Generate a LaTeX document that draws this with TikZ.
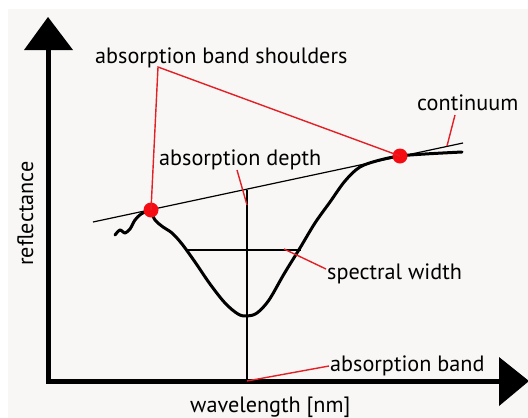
\documentclass[tikz,border=0pt]{standalone}
\usepackage{fontspec}
\setmainfont{PT Sans}
\usetikzlibrary{positioning}
\definecolor{leadred}{RGB}{226,32,38}
\definecolor{dotred}{RGB}{245,12,18}
\definecolor{paper}{RGB}{248,247,246}

\begin{document}
\begin{tikzpicture}[x=1pt, y=-1pt,
    lbl/.style={font=\fontsize{22.2}{24}\selectfont, inner sep=0pt, anchor=base west},
    lead/.style={draw=leadred, line width=1.4pt},
    dot/.style={circle, fill=dotred, minimum size=15pt, inner sep=0pt},
    axis/.style={line width=5pt},
    curve/.style={line width=3pt, line join=round, line cap=round}
  ]
  \useasboundingbox (0,0) rectangle (528,418);
  \fill[paper] (8,9) rectangle (528,418);

  % axes
  \draw[axis] (48,383) -- (48,48);
  \draw[axis] (46,381) -- (501,381);
  \fill (24,50) -- (48,17) -- (73,50) -- cycle;
  \fill (499,357) -- (529,381) -- (499,406) -- cycle;

  % labels
  \node[lbl] (shoulders) at (95,63) {absorption band shoulders};
  \node[lbl] (continuum) at (417,110) {continuum};
  \node[lbl] (depth) at (159,165) {absorption depth};
  \node[lbl] (width) at (327,279) {spectral width};
  \node[lbl] (band) at (330,371) {absorption band};
  \node[lbl] (xlabel) at (190,412) {wavelength [nm]};
  \node[lbl, rotate=90] (ylabel) at (33,266) {reflectance};

  % continuum, depth and width lines
  \coordinate (cleft) at (93,222);
  \coordinate (cright) at (463,143);
  \draw[line width=1.2pt] (cleft) -- (cright);
  \coordinate (dtop) at (247,190);
  \coordinate (dbot) at (247,381);
  \draw[line width=1.2pt] (dtop) -- (dbot);
  \coordinate (wleft) at (188,250);
  \coordinate (wright) at (301,250);
  \draw[line width=1.2pt] (wleft) -- (wright);

  % spectrum
  \draw[curve] plot[smooth, tension=0.5] coordinates {(115,235) (120,230) (125,233) (130,229) (135,220) (141,214) (148,211)};
  \draw[curve] plot[smooth, tension=0.55] coordinates {(152,213) (155,220) (163,227) (172,233) (182,244) (195,262) (210,284) (225,303) (238,314) (247,316) (257,313) (269,300) (284,274) (300,248) (315,223) (330,202) (345,181) (360,167) (380,160) (400,156) (425,154) (462,152)};

  % shoulder dots
  \node[dot] (sleft) at (151,210) {};
  \node[dot] (sright) at (400,156) {};

  % leaders
  \coordinate (shtip) at (158,67);
  \draw[lead] (sleft.center) -- (shtip) -- (sright.center);
  \coordinate (ctip) at (455,115);
  \coordinate (cend) at (447,146);
  \draw[lead] (ctip) -- (cend);
  \coordinate (dtip) at (237,170);
  \coordinate (dend) at (247,205);
  \draw[lead] (dtip) -- (dend);
  \coordinate (wstart) at (284,249);
  \coordinate (wtip) at (326,269);
  \draw[lead] (wstart) -- (wtip);
  \coordinate (bstart) at (247,381);
  \coordinate (btip) at (329,366);
  \draw[lead] (bstart) -- (btip);
\end{tikzpicture}
\end{document}
